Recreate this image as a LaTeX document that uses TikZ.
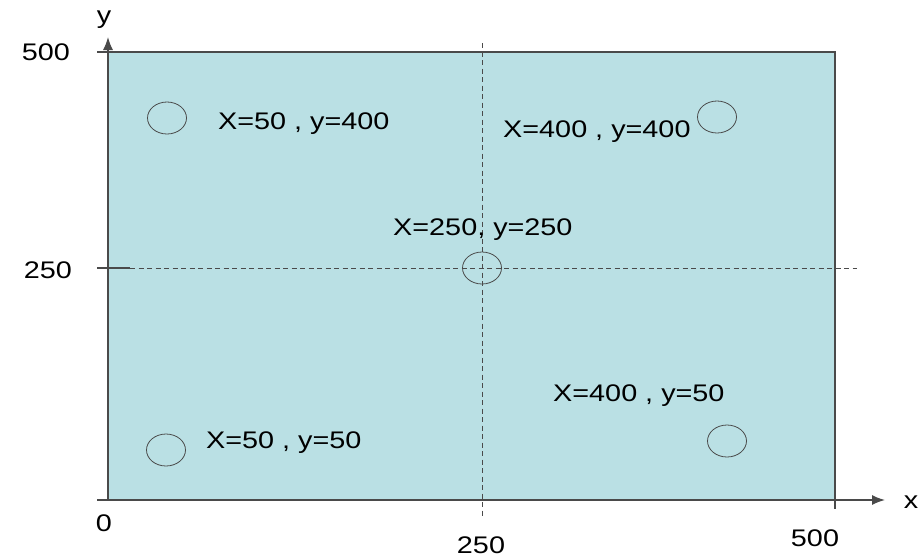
\documentclass[tikz,border=0pt]{standalone}
\usepackage{fontspec}
\setmainfont{Liberation Sans}[FakeStretch=1.2]
\usepackage{xcolor}
\usetikzlibrary{shapes.geometric, arrows.meta, positioning}

\definecolor{field}{HTML}{BAE0E4}
\definecolor{edge}{HTML}{4A4A4A}

\begin{document}
\begin{tikzpicture}[
        x=1pt, y=-1pt,
        spot/.style={ellipse, draw=edge, thick, minimum width=39pt, minimum height=32pt, inner sep=0pt},
        lbl/.style={font=\fontsize{24}{28}\selectfont, inner sep=0pt},
        axis/.style={-{Latex[length=13pt, width=10pt]}, draw=edge, line width=1.4pt},
        border/.style={draw=edge, line width=1.4pt},
        guide/.style={draw=edge, line width=1pt, dash pattern=on 5pt off 3.5pt}
    ]
    \useasboundingbox (0,0) rectangle (922,558);

    % Field
    \fill[field] (108,52) rectangle (835,500);

    % Corners and ends
    \coordinate (o) at (108,500);
    \coordinate (yend) at (108,37);
    \coordinate (xstart) at (97,500);
    \coordinate (xend) at (885,500);
    \coordinate (tl) at (97,52);
    \coordinate (tr) at (835,52);
    \coordinate (br) at (835,509);
    \coordinate (hl) at (97,268);
    \coordinate (hm) at (130,268);
    \coordinate (hr) at (857,268);
    \coordinate (vt) at (482,43);
    \coordinate (vb) at (482,518);

    % Lines
    \draw[border] (tl) -- (tr) -- (br);
    \draw[border] (hl) -- (hm);
    \draw[guide] (hm) -- (hr);
    \draw[guide] (vt) -- (vb);
    \draw[axis] (o) -- (yend);
    \draw[axis] (xstart) -- (xend);

    % Spots
    \node[spot] (s1) at (167,118) {};
    \node[spot] (s2) at (717,117) {};
    \node[spot] (s3) at (482,268) {};
    \node[spot] (s4) at (166,450) {};
    \node[spot] (s5) at (727,441) {};

    % Labels
    \node[lbl, anchor=west] (l1) at (218,124) {X=50 , y=400};
    \node[lbl, anchor=west] (l2) at (503,132) {X=400 , y=400};
    \node[lbl, anchor=west] (l3) at (393,230) {X=250, y=250};
    \node[lbl, anchor=west] (l4) at (553,396) {X=400 , y=50};
    \node[lbl, anchor=west] (l5) at (206,443) {X=50 , y=50};

    % Axis labels
    \node[lbl] (ylab) at (104,20) {y};
    \node[lbl] (xlab) at (911,502) {x};
    \node[lbl] (y500) at (46,52) {500};
    \node[lbl] (y250) at (48,270) {250};
    \node[lbl] (zero) at (104,523) {0};
    \node[lbl] (x250) at (481,545) {250};
    \node[lbl] (x500) at (815,538) {500};
\end{tikzpicture}
\end{document}
